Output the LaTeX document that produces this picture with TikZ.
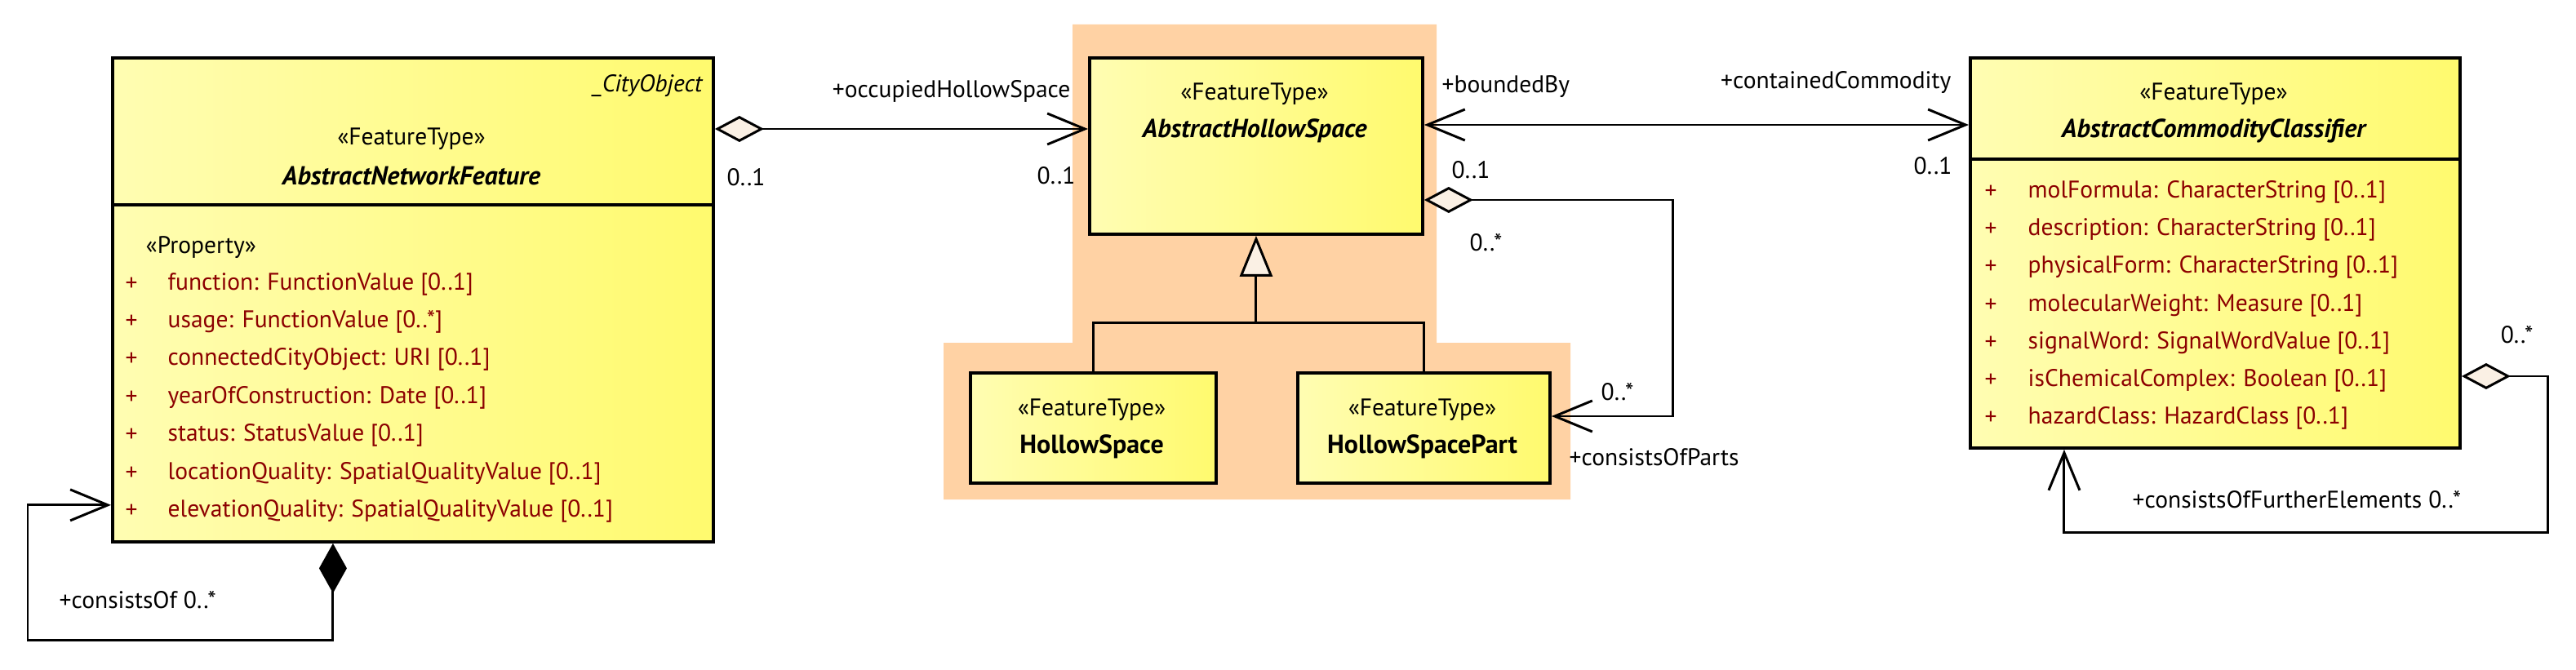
\documentclass[tikz,border=0pt]{standalone}
\usepackage{fontspec}
\setmainfont{PT Sans}
\usepackage{tikz}
\usetikzlibrary{arrows.meta}
\definecolor{boxleft}{RGB}{255,253,178}
\definecolor{boxright}{RGB}{255,250,110}
\definecolor{pkgfill}{RGB}{255,210,164}
\definecolor{diafill}{RGB}{250,240,228}
\definecolor{attrred}{RGB}{140,0,0}
\newcommand{\umlfont}{\fontsize{8.4}{10}\selectfont}
\newcommand{\umlnamefont}{\fontsize{9.1}{10.5}\selectfont\bfseries}
\tikzstyle{classbox} = [rectangle, draw=black, line width=1.1pt, anchor=north west,
    left color=boxleft, right color=boxright, inner sep=0pt]
\tikzstyle{umltext} = [inner sep=0pt, font=\umlfont]
\tikzstyle{umlname} = [inner sep=0pt, font=\umlnamefont]
\tikzstyle{attr} = [umltext, anchor=west, text=attrred]
\tikzstyle{lbl} = [umltext, anchor=west]
\tikzstyle{conn} = [line width=0.85pt, line join=miter]
\tikzstyle{aggr} = [conn, {Diamond[length=6mm,width=3.2mm,fill=diafill]}-{Straight Barb[length=4.6mm,width=3.8mm]}]
\tikzstyle{comp} = [conn, {Diamond[length=6.1mm,width=3.4mm]}-{Straight Barb[length=4.6mm,width=3.8mm]}]
\tikzstyle{assocboth} = [conn, {Straight Barb[length=4.6mm,width=3.8mm]}-{Straight Barb[length=4.6mm,width=3.8mm]}]
\tikzstyle{gen} = [conn, -{Triangle[length=5mm,width=4mm,fill=diafill]}]

\begin{document}
\begin{tikzpicture}[x=1cm, y=-1cm]
            \useasboundingbox (0,0) rectangle (31.56,8.20);
            % Package background
            \fill[pkgfill] (13.14,0.30) -- (17.60,0.30) -- (17.60,4.20) -- (19.24,4.20)
            -- (19.24,6.12) -- (11.56,6.12) -- (11.56,4.20) -- (13.14,4.20) -- cycle;
            % Classes
            \node[classbox, minimum width=7.36cm, minimum height=5.93cm] (anf) at (1.36,0.69) {};
            \draw[line width=1.1pt] ([yshift=-18.2mm]anf.north west) -- ([yshift=-18.2mm]anf.north east);
            \node[umltext, anchor=east, font=\umlfont\itshape] (cityobj) at (8.61,1.05) {\_CityObject};
            \node[umltext] (anfst) at (5.04,1.70) {«FeatureType»};
            \node[umlname, font=\umlnamefont\itshape] (anfname) at (5.04,2.15) {AbstractNetworkFeature};
            \node[lbl] (prop) at (1.78,3.03) {«Property»};
            \foreach \attrtext [count=\i] in {{function: FunctionValue [0..1]},
                {usage: FunctionValue [0..*]}, {connectedCityObject: URI [0..1]},
                {yearOfConstruction: Date [0..1]}, {status: StatusValue [0..1]},
                {locationQuality: SpatialQualityValue [0..1]},
                {elevationQuality: SpatialQualityValue [0..1]}} {
                \node[attr] (anfp\i) at (1.53,3.48+0.464*\i-0.464) {+};
                \node[attr] (anfa\i) at (2.05,3.48+0.464*\i-0.464) {\attrtext};
            }

            \node[classbox, minimum width=4.08cm, minimum height=2.16cm] (ahs) at (13.33,0.69) {};
            \node[umltext] (ahsst) at (15.37,1.15) {«FeatureType»};
            \node[umlname, font=\umlnamefont\itshape] (ahsname) at (15.37,1.60) {AbstractHollowSpace};

            \node[classbox, minimum width=3.01cm, minimum height=1.35cm] (hs) at (11.87,4.55) {};
            \node[umltext] (hsst) at (13.375,5.02) {«FeatureType»};
            \node[umlname] (hsname) at (13.375,5.47) {HollowSpace};

            \node[classbox, minimum width=3.09cm, minimum height=1.35cm] (hsp) at (15.88,4.55) {};
            \node[umltext] (hspst) at (17.425,5.02) {«FeatureType»};
            \node[umlname] (hspname) at (17.425,5.47) {HollowSpacePart};

            \node[classbox, minimum width=6.00cm, minimum height=4.78cm] (acc) at (24.12,0.69) {};
            \draw[line width=1.1pt] ([yshift=-12.6mm]acc.north west) -- ([yshift=-12.6mm]acc.north east);
            \node[umltext] (accst) at (27.12,1.15) {«FeatureType»};
            \node[umlname, font=\umlnamefont\itshape] (accname) at (27.12,1.60) {AbstractCommodityClassifier};
            \foreach \attrtext [count=\i] in {{molFormula: CharacterString [0..1]},
                {description: CharacterString [0..1]}, {physicalForm: CharacterString [0..1]},
                {molecularWeight: Measure [0..1]}, {signalWord: SignalWordValue [0..1]},
                {isChemicalComplex: Boolean [0..1]}, {hazardClass: HazardClass [0..1]}} {
                \node[attr] (accp\i) at (24.31,2.35+0.463*\i-0.463) {+};
                \node[attr] (acca\i) at (24.84,2.35+0.463*\i-0.463) {\attrtext};
            }

            % Connectors
            \draw[aggr] ([yshift=-8.9mm]anf.north east) -- ([yshift=-8.9mm]ahs.north west);
            \draw[assocboth] ([yshift=-8.4mm]ahs.north east) -- ([yshift=-8.4mm]acc.north west);
            \draw[aggr] ([yshift=-17.6mm]ahs.north east) -- ++(3.05,0) |- ([yshift=-5.5mm]hsp.north east);
            \coordinate (genjoin) at ([yshift=-10.7mm]ahs.south);
            \draw[conn] (hs.north) |- (genjoin) -| (hsp.north);
            \draw[gen] (genjoin) -- (ahs.south);
            \coordinate (loopL) at (0.34,7.84);
            \draw[comp] ([xshift=-9.8mm]anf.south) |- (loopL) |- ([yshift=4.7mm]anf.south west);
            \coordinate (loopR) at (31.21,6.52);
            \draw[aggr] ([yshift=-39.2mm]acc.north east) -| (loopR) -| ([xshift=-18.5mm]acc.south);

            % Labels
            \node[umltext, anchor=east] (occ) at (13.12,1.12) {+occupiedHollowSpace};
            \node[lbl] (m1) at (8.90,2.17) {0..1};
            \node[lbl] (m2) at (12.70,2.15) {0..1};
            \node[lbl] (bnd) at (17.66,1.06) {+boundedBy};
            \node[lbl] (m3) at (17.78,2.08) {0..1};
            \node[lbl] (m4) at (18.00,2.97) {0..*};
            \node[umltext, anchor=east] (cont) at (23.91,1.01) {+containedCommodity};
            \node[lbl] (m5) at (23.44,2.03) {0..1};
            \node[lbl] (m6) at (19.61,4.80) {0..*};
            \node[lbl] (cop) at (19.22,5.60) {+consistsOfParts};
            \node[lbl] (m7) at (30.63,4.10) {0..*};
            \node[lbl] (cofe) at (26.12,6.12) {+consistsOfFurtherElements 0..*};
            \node[lbl] (co) at (0.72,7.35) {+consistsOf 0..*};

        \end{tikzpicture}
\end{document}
